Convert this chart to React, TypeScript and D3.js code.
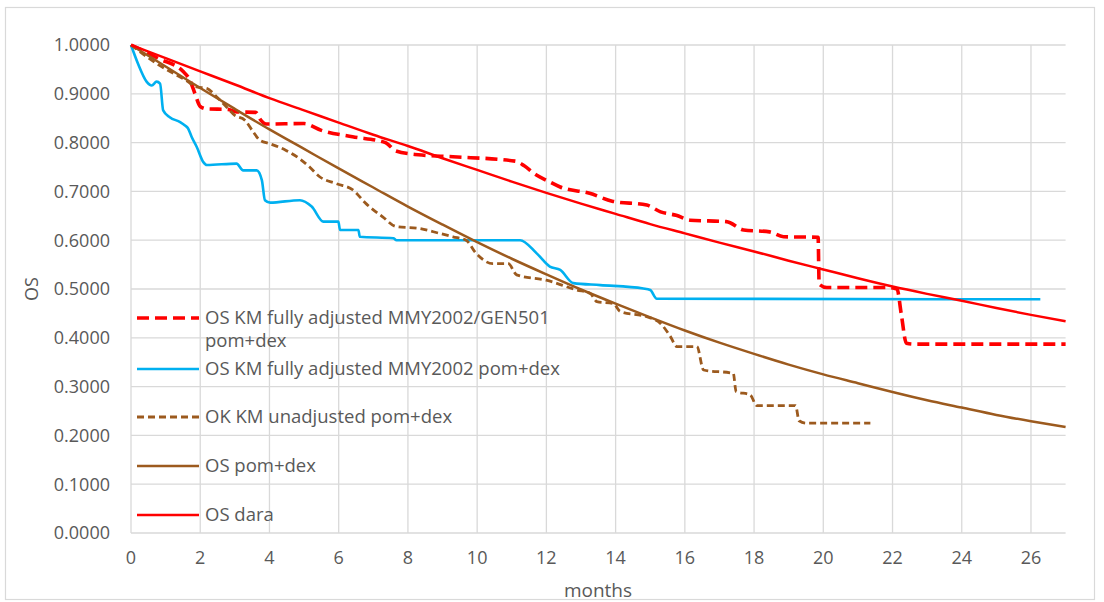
import React from "react";
import * as d3 from "d3";

// Survival (OS) curves, months on the x axis.
type Pt = [number, number];

// Modelled curves, sampled monthly
const monthGrid = [0, 1, 2, 3, 4, 5, 6, 7, 8, 9, 10, 11, 12, 13, 14, 15, 16, 17, 18, 19, 20, 21, 22, 23, 24, 25, 26, 27];
const osDara = [1.0, 0.973, 0.946, 0.919, 0.891, 0.866, 0.841, 0.816, 0.793, 0.768, 0.744, 0.72, 0.697, 0.675, 0.654, 0.633, 0.614, 0.595, 0.577, 0.558, 0.54, 0.522, 0.505, 0.49, 0.476, 0.461, 0.447, 0.434];
const osPomDex = [1.0, 0.956, 0.912, 0.869, 0.827, 0.787, 0.747, 0.708, 0.669, 0.632, 0.596, 0.562, 0.53, 0.499, 0.47, 0.442, 0.415, 0.39, 0.367, 0.345, 0.325, 0.307, 0.289, 0.272, 0.257, 0.242, 0.229, 0.217];

// Kaplan-Meier estimates [month, OS]
const kmFullyAdjustedGen501: Pt[] = [
  [0, 1.0], [0.8, 0.972], [1.5, 0.946], [1.7, 0.928], [1.85, 0.9], [2.0, 0.874], [2.2, 0.869], [2.8, 0.868],
  [3.05, 0.863], [3.6, 0.862], [3.75, 0.846], [3.9, 0.838], [5.0, 0.839], [5.5, 0.825], [6.4, 0.812],
  [7.35, 0.8], [7.65, 0.783], [8.3, 0.775], [9.3, 0.771], [11.1, 0.762], [11.35, 0.753], [11.7, 0.734],
  [12.05, 0.721], [12.4, 0.709], [13.25, 0.696], [13.9, 0.68], [14.9, 0.672], [15.3, 0.658], [15.75, 0.651],
  [16.15, 0.641], [17.2, 0.638], [17.7, 0.621], [18.45, 0.617], [18.85, 0.607], [19.85, 0.606], [19.88, 0.51],
  [20.1, 0.503], [21.85, 0.503], [22.13, 0.5], [22.25, 0.45], [22.4, 0.389], [22.6, 0.387], [27, 0.387],
];

const kmFullyAdjusted: Pt[] = [
  [0, 1.0], [0.2, 0.962], [0.45, 0.925], [0.6, 0.917], [0.74, 0.925], [0.84, 0.921], [0.93, 0.866],
  [1.12, 0.852], [1.42, 0.842], [1.56, 0.835], [1.65, 0.829], [1.75, 0.812], [1.9, 0.791], [2.09, 0.76],
  [2.19, 0.754], [3.05, 0.757], [3.24, 0.743], [3.63, 0.743], [3.78, 0.723], [3.87, 0.682], [4.02, 0.677],
  [4.88, 0.682], [5.22, 0.669], [5.56, 0.638], [5.99, 0.638], [6.04, 0.621], [6.57, 0.621], [6.61, 0.607],
  [7.58, 0.604], [7.67, 0.6], [11.24, 0.6], [11.72, 0.573], [12.1, 0.546], [12.4, 0.539], [12.78, 0.512],
  [13.56, 0.508], [14.8, 0.501], [15.0, 0.498], [15.19, 0.48], [26.27, 0.479],
];

const kmUnadjusted: Pt[] = [
  [0, 1.0], [0.74, 0.962], [1.6, 0.927], [1.9, 0.914], [2.19, 0.911], [2.47, 0.894], [2.76, 0.873],
  [3.0, 0.856], [3.29, 0.846], [3.53, 0.822], [3.72, 0.805], [4.0, 0.798], [4.48, 0.784], [4.87, 0.767],
  [5.16, 0.75], [5.45, 0.73], [5.93, 0.716], [6.41, 0.703], [6.79, 0.675], [7.27, 0.648], [7.66, 0.628],
  [8.33, 0.624], [8.91, 0.614], [9.3, 0.607], [9.68, 0.6], [9.97, 0.573], [10.45, 0.552], [10.9, 0.552],
  [11.14, 0.529], [12.0, 0.518], [12.88, 0.498], [13.27, 0.491], [13.46, 0.474], [13.94, 0.47],
  [14.13, 0.454], [14.9, 0.443], [15.29, 0.43], [15.58, 0.403], [15.77, 0.382], [16.35, 0.382],
  [16.54, 0.334], [17.4, 0.327], [17.48, 0.29], [17.89, 0.283], [18.08, 0.261], [19.2, 0.261],
  [19.3, 0.23], [19.5, 0.225], [21.36, 0.225],
];

const xTicks = [0, 2, 4, 6, 8, 10, 12, 14, 16, 18, 20, 22, 24, 26];
const yTicks = [0, 0.1, 0.2, 0.3, 0.4, 0.5, 0.6, 0.7, 0.8, 0.9, 1.0];

const legendLabels = [
  ["OS KM fully adjusted MMY2002/GEN501", "pom+dex"],
  ["OS KM fully adjusted MMY2002 pom+dex"],
  ["OK KM unadjusted pom+dex"],
  ["OS pom+dex"],
  ["OS dara"],
];

const W = 1104;
const H = 602;
const FONT = "'Open Sans', sans-serif";
const TEXT = "#595959";
const GRID = "#D9D9D9";
const RED = "#FF0000";
const BLUE = "#00B0F0";
const BROWN = "#9C5A1E";

export default function App() {
  const x = d3.scaleLinear().domain([0, 27]).range([131, 1065.6]);
  const y = d3.scaleLinear().domain([0, 1]).range([533, 45]);

  const line = d3
    .line<Pt>()
    .x((d) => x(d[0]))
    .y((d) => y(d[1]))
    .curve(d3.curveMonotoneX);

  const zip = (vals: number[]): Pt[] => monthGrid.map((m, i) => [m, vals[i]] as Pt);

  const series = [
    { data: kmFullyAdjustedGen501, color: RED, width: 3.6, dash: "12 6" },
    { data: kmFullyAdjusted, color: BLUE, width: 2.6, dash: undefined },
    { data: kmUnadjusted, color: BROWN, width: 2.8, dash: "7 4" },
    { data: zip(osPomDex), color: BROWN, width: 2.5, dash: undefined },
    { data: zip(osDara), color: RED, width: 2.5, dash: undefined },
  ];

  // legend rows: y centre of each entry's first text line
  const legendY = [318, 369, 417, 466, 515];
  const LEGEND_FONT = 18.5;
  const LEGEND_LINE = 23;

  return (
    <svg
      width={W}
      height={H}
      style={{ position: "absolute", left: 0, top: 0, background: "#fff" }}
      fontFamily={FONT}
    >
      <rect x={0} y={0} width={W} height={H} fill="#fff" />
      <rect x={5.5} y={7.5} width={1089} height={592} fill="none" stroke={GRID} strokeWidth={1.2} />

      {/* gridlines */}
      {yTicks.map((t) => (
        <line key={"gy" + t} x1={x(0)} x2={x(27)} y1={y(t)} y2={y(t)} stroke={GRID} strokeWidth={1.3} />
      ))}
      {xTicks.map((t) => (
        <line key={"gx" + t} x1={x(t)} x2={x(t)} y1={y(0)} y2={y(1)} stroke={GRID} strokeWidth={1.3} />
      ))}

      {/* y tick labels */}
      {yTicks.map((t) => (
        <text
          key={"ly" + t}
          x={110}
          y={y(t)}
          dy="0.35em"
          textAnchor="end"
          fontSize={18}
          fill={TEXT}
        >
          {t.toFixed(4)}
        </text>
      ))}
      {/* x tick labels */}
      {xTicks.map((t) => (
        <text key={"lx" + t} x={x(t)} y={558} dy="0.35em" textAnchor="middle" fontSize={18} fill={TEXT}>
          {t}
        </text>
      ))}

      <text x={598} y={590} dy="0.35em" textAnchor="middle" fontSize={19} fill={TEXT}>
        months
      </text>
      <text
        transform={`translate(32,289) rotate(-90)`}
        dy="0.35em"
        textAnchor="middle"
        fontSize={18}
        fill={TEXT}
      >
        OS
      </text>

      {/* legend */}
      {legendLabels.map((lines, i) => {
        const s = series[i];
        const ly = legendY[i];
        return (
          <g key={"lg" + i}>
            <line
              x1={137}
              x2={199}
              y1={ly}
              y2={ly}
              stroke={s.color}
              strokeWidth={s.width}
              strokeDasharray={s.dash}
            />
            <text x={205} y={ly} fontSize={LEGEND_FONT} fill={TEXT}>
              {lines.map((txt, j) => (
                <tspan key={j} x={205} dy={j === 0 ? "0.35em" : LEGEND_LINE}>
                  {txt}
                </tspan>
              ))}
            </text>
          </g>
        );
      })}

      {/* curves */}
      {series.map((s, i) => (
        <path
          key={"s" + i}
          d={line(s.data) || ""}
          fill="none"
          stroke={s.color}
          strokeWidth={s.width}
          strokeDasharray={s.dash}
          strokeLinejoin="round"
        />
      ))}
    </svg>
  );
}
